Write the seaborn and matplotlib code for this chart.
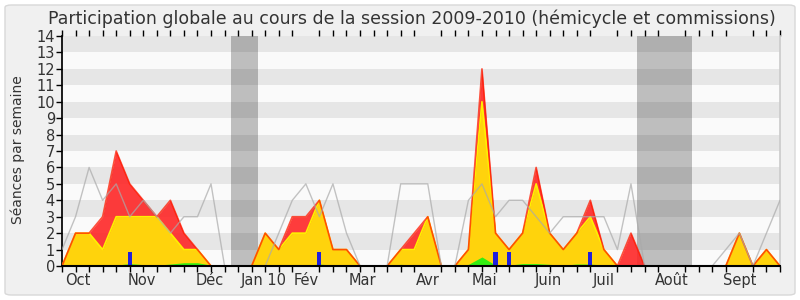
import numpy as np
import pandas as pd
import seaborn as sns
import matplotlib.pyplot as plt
from matplotlib.patches import FancyBboxPatch

# ---- data (weekly values, session 2009-2010) ----
weeks = list(range(54))
presence = [1, 3, 6, 4, 5, 3, 4, 3, 2, 3, 3, 5, 0, 0, 0, 0, 2, 4, 5, 3,
            5, 2, 0, 0, 0, 5, 5, 5, 0, 0, 4, 5, 3, 4, 4, 3, 2, 3, 3, 3,
            3, 1, 5, 0, 0, 0, 0, 0, 0, 1, 2, 0, 2, 4]
total = [0, 2, 2, 3, 7, 5, 4, 3, 4, 2, 1, 0, 0, 0, 0, 2, 1, 3, 3, 4,
         1, 1, 0, 0, 0, 1, 2, 3, 0, 0, 1, 12, 2, 1, 2, 6, 2, 1, 2, 4,
         1, 0, 2, 0, 0, 0, 0, 0, 0, 0, 2, 0, 1, 0]
hemicycle = [0, 2, 2, 1, 3, 3, 3, 3, 2, 1, 1, 0, 0, 0, 0, 2, 1, 2, 2, 4,
             1, 1, 0, 0, 0, 1, 1, 3, 0, 0, 1, 10, 2, 1, 2, 5, 2, 1, 2, 3,
             1, 0, 0, 0, 0, 0, 0, 0, 0, 0, 2, 0, 1, 0]
interventions = [0.05, 0.05, 0.05, 0.05, 0.05, 0.15, 0.08, 0.05, 0.12, 0.2,
                 0.2, 0.05, 0, 0, 0, 0.05, 0.05, 0.05, 0.05, 0.12,
                 0.05, 0.05, 0, 0, 0, 0.1, 0.05, 0.05, 0, 0,
                 0.1, 0.55, 0.05, 0.05, 0.15, 0.15, 0.1, 0.05, 0.12, 0.12,
                 0.05, 0, 0, 0, 0, 0, 0, 0, 0, 0, 0.05, 0, 0.05, 0]
question_weeks = [5, 19, 32, 33, 39]
question_vals = [0.85, 0.85, 0.85, 0.85, 0.85]
vacations = [(12.45, 14.5), (42.45, 46.5)]
month_labels = ["Oct", "Nov", "Déc", "Jan 10", "Fév", "Mar", "Avr", "Mai",
                "Juin", "Juil", "Août", "Sept"]
month_pos = [1.2, 5.9, 10.9, 14.9, 18.0, 22.2, 27.0, 31.2, 35.9, 40.0, 45.0, 50.0]

df = pd.DataFrame({"week": weeks, "presence": presence, "total": total,
                   "hemicycle": hemicycle, "inter": interventions})

sns.set_theme(style="white")
plt.rcParams['font.family'] = ['DejaVu Sans']

fig = plt.figure(figsize=(8, 3), dpi=100, facecolor='white')
fig.patches.append(FancyBboxPatch((5/800, 5/300), 790/800, 290/300,
                                  boxstyle="round,pad=0,rounding_size=0.008",
                                  transform=fig.transFigure, fc='#f0f0f0',
                                  ec='#d8d8d8', lw=1, zorder=-10))

ax = fig.add_axes([62/800, 34/300, 718/800, 230/300])
ax.set_zorder(5)
ax.patch.set_alpha(0)
ax.set_xlim(0, 53)
ax.set_ylim(0, 14)

for k in range(14):
    ax.axhspan(k, k + 1, color='#e6e6e6' if k % 2 == 1 else '#fafafa', lw=0, zorder=0)
for a, b in vacations:
    ax.axvspan(a, b, color='black', alpha=0.24, lw=0, zorder=1)

ax.fill_between(df["week"], df["total"], color='#ff2222', alpha=0.88, lw=0, zorder=2)
ax.fill_between(df["week"], df["hemicycle"], color='#ffd30c', lw=0, zorder=3)
sns.lineplot(data=df, x="week", y="hemicycle", color='#fff000', lw=1.2, ax=ax, zorder=4)
sns.lineplot(data=df, x="week", y="total", color='#ff1a00', lw=1.2, alpha=0.75, ax=ax, zorder=4)
ax.fill_between(df["week"], df["inter"], color='#33ee11', lw=0, zorder=5)
sns.lineplot(data=df, x="week", y="presence", color='#aaaaaa', lw=1, alpha=0.7, ax=ax, zorder=6)
ax.bar(question_weeks, question_vals, width=0.3, color='#2020dd', edgecolor='none',
       linewidth=0, zorder=7)

ax.set_xlabel("")
ax.set_ylabel("")
ax.set_xticks(month_pos)
ax.set_xticklabels(month_labels, fontsize=10.5, color='#333333')
ax.set_xticks(weeks, minor=True)
ax.tick_params(axis='x', which='major', length=0, pad=5)
ax.tick_params(axis='x', which='minor', bottom=True, top=True, length=4, width=1,
               color='black', direction='out')
ax.set_yticks(range(15))
ax.set_yticklabels([str(i) for i in range(15)], fontsize=10.5, color='#333333')
ax.tick_params(axis='y', which='major', left=True, length=4, width=1, color='black', pad=1)

ax.spines['top'].set_visible(False)
ax.spines['right'].set_color('#cccccc')
ax.spines['left'].set_color('black')
ax.spines['bottom'].set_color('black')
ax.spines['bottom'].set_linewidth(1.5)
ax.spines['bottom'].set_zorder(8)

fig.text(412/800, 1 - 19/300, "Participation globale au cours de la session 2009-2010 (hémicycle et commissions)",
         ha='center', va='center', fontsize=12.5, color='#333333')
fig.text(18/800, 1 - 150/300, "Séances par semaine", rotation=90, ha='center', va='center',
         fontsize=10, color='#333333')

fig.savefig("out.png", dpi=100, facecolor='white')
